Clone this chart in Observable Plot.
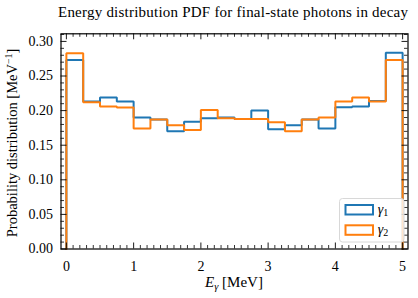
<!DOCTYPE html>
<html>
<head>
<meta charset="utf-8">
<script src="https://cdn.jsdelivr.net/npm/d3@7"></script>
<script src="https://cdn.jsdelivr.net/npm/@observablehq/plot@0.6"></script>
<style>
  html, body { margin: 0; padding: 0; background: white; }
  svg { display: block; }
</style>
</head>
<body>
<div id="chart"></div>
<script>
// Bin edges (MeV) and PDF values per bin
const binEdges = [0, 0.25, 0.5, 0.75, 1, 1.25, 1.5, 1.75, 2, 2.25, 2.5, 2.75, 3, 3.25, 3.5, 3.75, 4, 4.25, 4.5, 4.75, 5];
const gamma1 = [0.273, 0.213, 0.219, 0.213, 0.190, 0.187, 0.170, 0.184, 0.189, 0.190, 0.188, 0.200, 0.173, 0.179, 0.187, 0.174, 0.205, 0.206, 0.214, 0.2835];
const gamma2 = [0.283, 0.212, 0.206, 0.2045, 0.174, 0.187, 0.179, 0.172, 0.201, 0.189, 0.188, 0.188, 0.183, 0.170, 0.187, 0.190, 0.213, 0.219, 0.213, 0.273];
const seriesNames = ["γ1", "γ2"];
const xMajor = [0, 1, 2, 3, 4, 5];
const xMinor = [0.1,0.2,0.3,0.4,0.5,0.6,0.7,0.8,0.9,1.1,1.2,1.3,1.4,1.5,1.6,1.7,1.8,1.9,2.1,2.2,2.3,2.4,2.5,2.6,2.7,2.8,2.9,3.1,3.2,3.3,3.4,3.5,3.6,3.7,3.8,3.9,4.1,4.2,4.3,4.4,4.5,4.6,4.7,4.8,4.9];
const yMajor = [0, 0.05, 0.10, 0.15, 0.20, 0.25, 0.30];
const yMinor = [0.01,0.02,0.03,0.04,0.06,0.07,0.08,0.09,0.11,0.12,0.13,0.14,0.16,0.17,0.18,0.19,0.21,0.22,0.23,0.24,0.26,0.27,0.28,0.29,0.31];

const colors = ["#1f77b4", "#ff7f0e"];
const FONT = "'Liberation Serif', 'DejaVu Serif', serif";

function stepData(values) {
  const pts = [{x: binEdges[0], y: 0}];
  values.forEach((v, i) => pts.push({x: binEdges[i], y: v}));
  pts.push({x: binEdges[binEdges.length - 1], y: 0});
  return pts;
}

const W = 418, H = 298;
const mL = 60.5, mR = 10.5, mT = 33.3, mB = 49.5;
const innerH = H - mT - mB, innerW = W - mL - mR;
const majLen = 6, minLen = 3.5;

const svg = Plot.plot({
  width: W, height: H,
  marginLeft: mL, marginRight: mR, marginTop: mT, marginBottom: mB,
  x: {domain: [-0.08, 5.08]},
  y: {domain: [0, 0.311]},
  style: {fontFamily: FONT, fontSize: "14px", background: "white", color: "black"},
  marks: [
    Plot.line(stepData(gamma1), {x: "x", y: "y", curve: "step-after", stroke: colors[0], strokeWidth: 2, strokeLinejoin: "miter"}),
    Plot.line(stepData(gamma2), {x: "x", y: "y", curve: "step-after", stroke: colors[1], strokeWidth: 2, strokeLinejoin: "miter"}),
    // inward ticks, bottom & top
    Plot.tickX(xMajor, {x: d => d, insetTop: innerH - majLen, stroke: "black", strokeWidth: 0.9}),
    Plot.tickX(xMinor, {x: d => d, insetTop: innerH - minLen, stroke: "black", strokeWidth: 0.8}),
    Plot.tickX(xMajor, {x: d => d, insetBottom: innerH - majLen, stroke: "black", strokeWidth: 0.9}),
    Plot.tickX(xMinor, {x: d => d, insetBottom: innerH - minLen, stroke: "black", strokeWidth: 0.8}),
    // inward ticks, left & right
    Plot.tickY(yMajor, {y: d => d, insetRight: innerW - majLen, stroke: "black", strokeWidth: 0.9}),
    Plot.tickY(yMinor, {y: d => d, insetRight: innerW - minLen, stroke: "black", strokeWidth: 0.8}),
    Plot.tickY(yMajor, {y: d => d, insetLeft: innerW - majLen, stroke: "black", strokeWidth: 0.9}),
    Plot.tickY(yMinor, {y: d => d, insetLeft: innerW - minLen, stroke: "black", strokeWidth: 0.8}),
    Plot.axisX(xMajor, {tickSize: 0, tickPadding: 12, tickFormat: d => String(d), label: null, fontSize: 14, fontFamily: FONT}),
    Plot.axisY(yMajor, {tickSize: 0, tickPadding: 8, tickFormat: d3.format(".2f"), label: null, fontSize: 14, fontFamily: FONT}),
    Plot.frame({stroke: "black", strokeWidth: 1.2})
  ]
});

const s = d3.select(svg);
s.selectAll("g[aria-label$='tick label'] text, g[aria-label$='tick label']")
  .attr("font-family", FONT);
const cx = mL + innerW / 2;

// Title
s.append("text")
  .attr("x", cx - 1).attr("y", 16.5)
  .attr("text-anchor", "middle")
  .attr("font-family", FONT).attr("font-size", 15)
  .attr("textLength", 350).attr("lengthAdjust", "spacing")
  .attr("fill", "black")
  .text("Energy distribution PDF for final-state photons in decay");

// X label
const xl = s.append("text")
  .attr("x", cx).attr("y", 287)
  .attr("text-anchor", "middle")
  .attr("font-family", FONT).attr("font-size", 15)
  .attr("fill", "black");
xl.append("tspan").attr("font-style", "italic").text("E");
xl.append("tspan").attr("font-style", "italic").attr("font-size", 10.5).attr("dy", 3).text("γ");
xl.append("tspan").attr("dy", -3).text(" [MeV]");

// Y label
const yl = s.append("text")
  .attr("transform", `translate(16.5,${mT + innerH / 2 + 2}) rotate(-90)`)
  .attr("text-anchor", "middle")
  .attr("font-family", FONT).attr("font-size", 14.5)
  .attr("fill", "black");
yl.append("tspan").text("Probability distribution [MeV");
yl.append("tspan").attr("font-size", 10).attr("dy", -5).text("−1");
yl.append("tspan").attr("dy", 5).text("]");

// Legend
const lg = s.append("g");
lg.append("rect")
  .attr("x", 339.5).attr("y", 198.5).attr("width", 64.5).attr("height", 43.5)
  .attr("rx", 3).attr("fill", "white").attr("fill-opacity", 0.8)
  .attr("stroke", "#d8d8d8").attr("stroke-width", 1);
seriesNames.forEach((name, i) => {
  const y0 = 205 + i * 20.3;
  lg.append("rect")
    .attr("x", 345.5).attr("y", y0).attr("width", 27.5).attr("height", 9.5)
    .attr("fill", "none").attr("stroke", colors[i]).attr("stroke-width", 2);
  const t = lg.append("text")
    .attr("x", 383).attr("y", y0 + 8.5)
    .attr("font-family", FONT).attr("font-size", 14).attr("fill", "black");
  t.append("tspan").attr("font-style", "italic").text(name.slice(0, 1));
  t.append("tspan").attr("font-size", 10).attr("dy", 2.5).text(name.slice(1));
});

document.getElementById("chart").appendChild(svg);
</script>
</body>
</html>
